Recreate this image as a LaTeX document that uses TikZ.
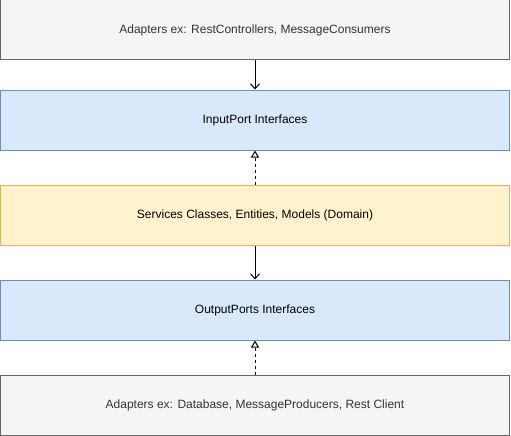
\documentclass[tikz,border=0pt]{standalone}
\usepackage{fontspec}
\setmainfont{Liberation Sans}
\usetikzlibrary{arrows.meta}
\definecolor{grayfill}{HTML}{F5F5F5}
\definecolor{graydraw}{HTML}{666666}
\definecolor{grayfont}{HTML}{333333}
\definecolor{bluefill}{HTML}{DAE8FC}
\definecolor{bluedraw}{HTML}{6C8EBF}
\definecolor{yellowfill}{HTML}{FFF2CC}
\definecolor{yellowdraw}{HTML}{D6B656}
\tikzset{
  layer/.style={minimum width=509pt, minimum height=60pt, inner sep=0pt, line width=1pt, font=\fontsize{12}{14}\selectfont},
  graybox/.style={layer, fill=grayfill, draw=graydraw, text=grayfont},
  bluebox/.style={layer, fill=bluefill, draw=bluedraw},
  yellowbox/.style={layer, fill=yellowfill, draw=yellowdraw},
  uses/.style={line width=1pt, -{Straight Barb[length=5pt,width=9pt]}},
  impl/.style={line width=1pt, dashed, dash pattern=on 3pt off 3pt, -{Triangle[open,length=7pt,width=8pt,fill=white]}}
}
\begin{document}
\begin{tikzpicture}[x=1pt,y=-1pt]
    \useasboundingbox (0,0) rectangle (511,436);
    \node[graybox] (adapters) at (255,30) {Adapters ex: RestControllers, MessageConsumers};
    \node[bluebox] (inport) at (255,120) {InputPort Interfaces};
    \node[yellowbox] (domain) at (255,215) {Services Classes, Entities, Models (Domain)};
    \node[bluebox] (outport) at (255,310) {OutputPorts Interfaces};
    \node[graybox] (drivers) at (255,405) {Adapters ex: Database, MessageProducers, Rest Client};

    % adapters to inputport
    \draw[uses] (adapters) -- (inport);
    % domain implements inputport
    \draw[impl] (domain) -- (inport);
    % domain to outputport
    \draw[uses] (domain) -- (outport);
    % adapters implement outputport
    \draw[impl] (drivers) -- (outport);
\end{tikzpicture}
\end{document}
